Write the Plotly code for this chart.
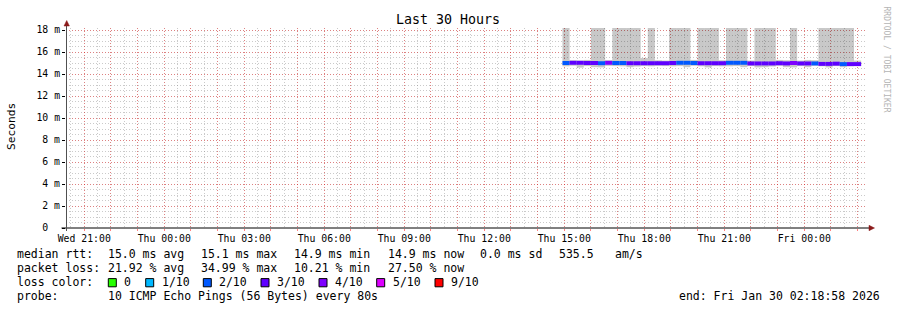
import pandas as pd
import plotly.graph_objects as go

# ---------------- data ----------------
range_start = "2026-01-28 20:18:58"
range_end = "2026-01-30 02:18:58"
first_bucket = "2026-01-29 14:56:00"
bucket_step = "16min"

median_ms = [15.00, 15.02, 15.02, 15.00, 15.00, 14.98, 15.02, 15.00, 15.00, 14.98,
             14.98, 14.98, 14.98, 14.98, 14.98, 15.00, 15.02, 15.02, 15.00, 14.98,
             14.98, 14.98, 14.98, 15.02, 15.02, 15.02, 14.96, 14.96, 14.96, 14.96,
             14.98, 14.96, 15.00, 14.96, 14.96, 14.96, 14.92, 14.92, 14.94, 14.90,
             14.90, 14.90]
loss_pct = [18.75, 25.00, 22.50, 21.25, 27.50, 16.25, 34.99, 15.00, 12.50, 23.75,
            26.25, 21.25, 28.75, 22.50, 25.00, 21.25, 17.50, 10.21, 13.75, 26.25,
            23.75, 27.50, 21.25, 15.00, 18.75, 12.50, 22.50, 28.75, 25.00, 23.75,
            21.25, 26.25, 32.50, 23.75, 22.50, 16.25, 27.50, 25.00, 21.25, 13.75,
            26.25, 27.50]
smoke_lo = [14.70, 14.75, 14.58, 14.72, 14.62, 14.60, 14.74, 14.72, 14.70, 14.62,
            14.68, 14.72, 14.70, 14.74, 14.72, 14.70, 14.72, 14.62, 14.74, 14.70,
            14.60, 14.72, 14.70, 14.70, 14.72, 14.62, 14.72, 14.60, 14.62, 14.68,
            14.74, 14.62, 14.60, 14.72, 14.62, 14.74, 14.70, 14.60, 14.72, 14.62,
            14.70, 14.72]
smoke_hi = [19.5, 15.25, 15.22, 15.28, 19.5, 19.5, 15.25, 19.5, 19.5, 19.5,
            19.5, 15.45, 19.5, 15.25, 15.22, 19.5, 19.5, 19.5, 15.28, 19.5,
            19.5, 19.5, 15.25, 19.5, 19.5, 19.5, 15.22, 19.5, 19.5, 19.5,
            15.28, 15.25, 19.5, 15.22, 15.28, 15.25, 19.5, 19.5, 19.5, 19.5,
            19.5, 15.22]

loss_thresholds = [0, 10, 20, 30, 40, 50, 90]
loss_labels = ["0", "1/10", "2/10", "3/10", "4/10", "5/10", "9/10"]
loss_colors = ["#26ff00", "#00b8ff", "#0059ff", "#5e00ff", "#7e00ff", "#dd00ff", "#ff0000"]

y_tick_vals = [0, 2, 4, 6, 8, 10, 12, 14, 16, 18]
y_tick_text = ["0\u00a0\u00a0", "2 m", "4 m", "6 m", "8 m", "10 m", "12 m", "14 m", "16 m", "18 m"]
x_tick_hours = pd.date_range("2026-01-28 21:00", "2026-01-30 02:00", freq="1h")

legend_rows = [
    ["median rtt:", "15.0 ms avg", "15.1 ms max", "14.9 ms min", "14.9 ms now", "0.0 ms sd", "535.5", "am/s"],
    ["packet loss:", "21.92 % avg", "34.99 % max", "10.21 % min", "27.50 % now"],
]
probe_text = "10 ICMP Echo Pings (56 Bytes) every 80s"
end_text = "end: Fri Jan 30 02:18:58 2026"

# ---------------- layout helpers ----------------
W, H = 897, 310
L, R, T, B = 66, 866, 28, 228


def px(x):
    return (x - L) / (R - L)


def py(y):
    return (B - y) / (B - T)


MONO = "DejaVu Sans Mono"
MAJOR_GRID = "rgba(255,0,0,0.36)"
MINOR_GRID = "rgba(128,128,128,0.42)"
DASH = "1px,2px"

times = pd.date_range(first_bucket, periods=len(median_ms), freq=bucket_step)
step_ms = pd.Timedelta(bucket_step).total_seconds() * 1000


def color_for(loss):
    c = loss_colors[0]
    for i, t in enumerate(loss_thresholds[:-1]):
        if loss > t:
            c = loss_colors[i + 1]
    return c


fig = go.Figure()
fig.add_trace(go.Bar(
    x=times, base=smoke_lo, y=[h - l for h, l in zip(smoke_hi, smoke_lo)],
    width=step_ms, offset=0, marker=dict(color="rgba(0,0,0,0.215)", line=dict(width=0)),
    hoverinfo="skip"))
band = 0.18
fig.add_trace(go.Bar(
    x=times, base=[m - band for m in median_ms], y=[2 * band] * len(median_ms),
    width=step_ms, offset=0,
    marker=dict(color=[color_for(v) for v in loss_pct], line=dict(width=0)),
    hoverinfo="skip"))

x_tick_text = [t.strftime("%a %H:%M") if t.hour % 3 == 0 else "" for t in x_tick_hours]

fig.update_layout(
    width=W, height=H, margin=dict(l=L, r=W - R, t=T, b=H - B, pad=0),
    paper_bgcolor="white", plot_bgcolor="white",
    showlegend=False, barmode="overlay", hovermode=False,
    font=dict(family=MONO, color="black"),
)
fig.update_xaxes(
    type="date", range=[range_start, range_end],
    tickmode="array", tickvals=list(x_tick_hours), ticktext=x_tick_text,
    showgrid=True, gridcolor=MAJOR_GRID, griddash=DASH, gridwidth=1,
    ticks="outside", ticklen=2, tickcolor="rgba(255,0,0,0.5)",
    tickfont=dict(family=MONO, size=9.8, color="black"),
    ticklabelstandoff=-1,
    minor=dict(dtick=1800000, tick0="2026-01-28 00:00", showgrid=True,
               gridcolor=MINOR_GRID, griddash=DASH, gridwidth=1),
    showline=False, zeroline=False, fixedrange=True,
)
fig.update_yaxes(
    range=[0, 200 / 11], tickmode="array", tickvals=y_tick_vals, ticktext=y_tick_text,
    showgrid=True, gridcolor=MAJOR_GRID, griddash=DASH, gridwidth=1,
    ticks="outside", ticklen=3, tickcolor="black",
    tickfont=dict(family=MONO, size=9.8, color="black"),
    ticklabelstandoff=0,
    minor=dict(dtick=0.5, tick0=0, showgrid=True,
               gridcolor=MINOR_GRID, griddash=DASH, gridwidth=1),
    showline=False, zeroline=False, fixedrange=True,
)

shapes = []
shapes.append(dict(type="line", xref="paper", yref="paper", x0=px(61.5), x1=px(869), y0=0, y1=0,
                   line=dict(color="black", width=1)))
shapes.append(dict(type="line", xref="paper", yref="paper", x0=px(66.5), x1=px(66.5), y0=py(231), y1=py(25),
                   line=dict(color="#505050", width=1)))
arrow = "#8b1a1a"
shapes.append(dict(type="path", xref="paper", yref="paper",
                   path=f"M {px(64.0)},{py(26)} L {px(66.7)},{py(20.5)} L {px(69.4)},{py(26)} Z",
                   fillcolor=arrow, line=dict(color=arrow, width=0.5)))
shapes.append(dict(type="path", xref="paper", yref="paper",
                   path=f"M {px(869)},{py(225.3)} L {px(874.5)},{py(228)} L {px(869)},{py(230.7)} Z",
                   fillcolor=arrow, line=dict(color=arrow, width=0.5)))

annotations = []


def text_at(x, y, s, size=11.5, anchor="left", **kw):
    annotations.append(dict(x=px(x), y=py(y), xref="paper", yref="paper", text=s, showarrow=False,
                            xanchor=anchor, yanchor="middle", borderpad=0,
                            font=dict(family=MONO, size=size, color=kw.pop("color", "black")), **kw))


text_at(448, 19, "Last 30 Hours", size=13.3, anchor="center")
text_at(11, 126, "Seconds", size=11.2, anchor="center", textangle=-90)
text_at(886.5, 59, "RRDTOOL / TOBI OETIKER", size=8, anchor="center", textangle=90, color="#b4b4b4")

row_x = [16, 107.3, 200, 293.3, 386.7, 479.3, 558.3, 614.3]
row_y = [254.3, 268.3]
for r, row in enumerate(legend_rows):
    for j, seg in enumerate(row):
        text_at(row_x[j], row_y[r], seg)

text_at(16, 282.3, "loss color:")
box_x = [108.3, 145.7, 203.3, 261, 319, 376.7, 435]
for bx, lbl, col in zip(box_x, loss_labels, loss_colors):
    shapes.append(dict(type="rect", xref="paper", yref="paper",
                       x0=px(bx), x1=px(bx + 8), y0=py(286.8), y1=py(278.6),
                       fillcolor=col, line=dict(color="black", width=1)))
    text_at(bx + 15, 282.3, lbl)

text_at(16, 296.3, "probe:")
text_at(107.3, 296.3, probe_text)
text_at(880.5, 296.3, end_text, anchor="right")

fig.update_layout(shapes=shapes, annotations=annotations)
fig.write_html("out.html")
